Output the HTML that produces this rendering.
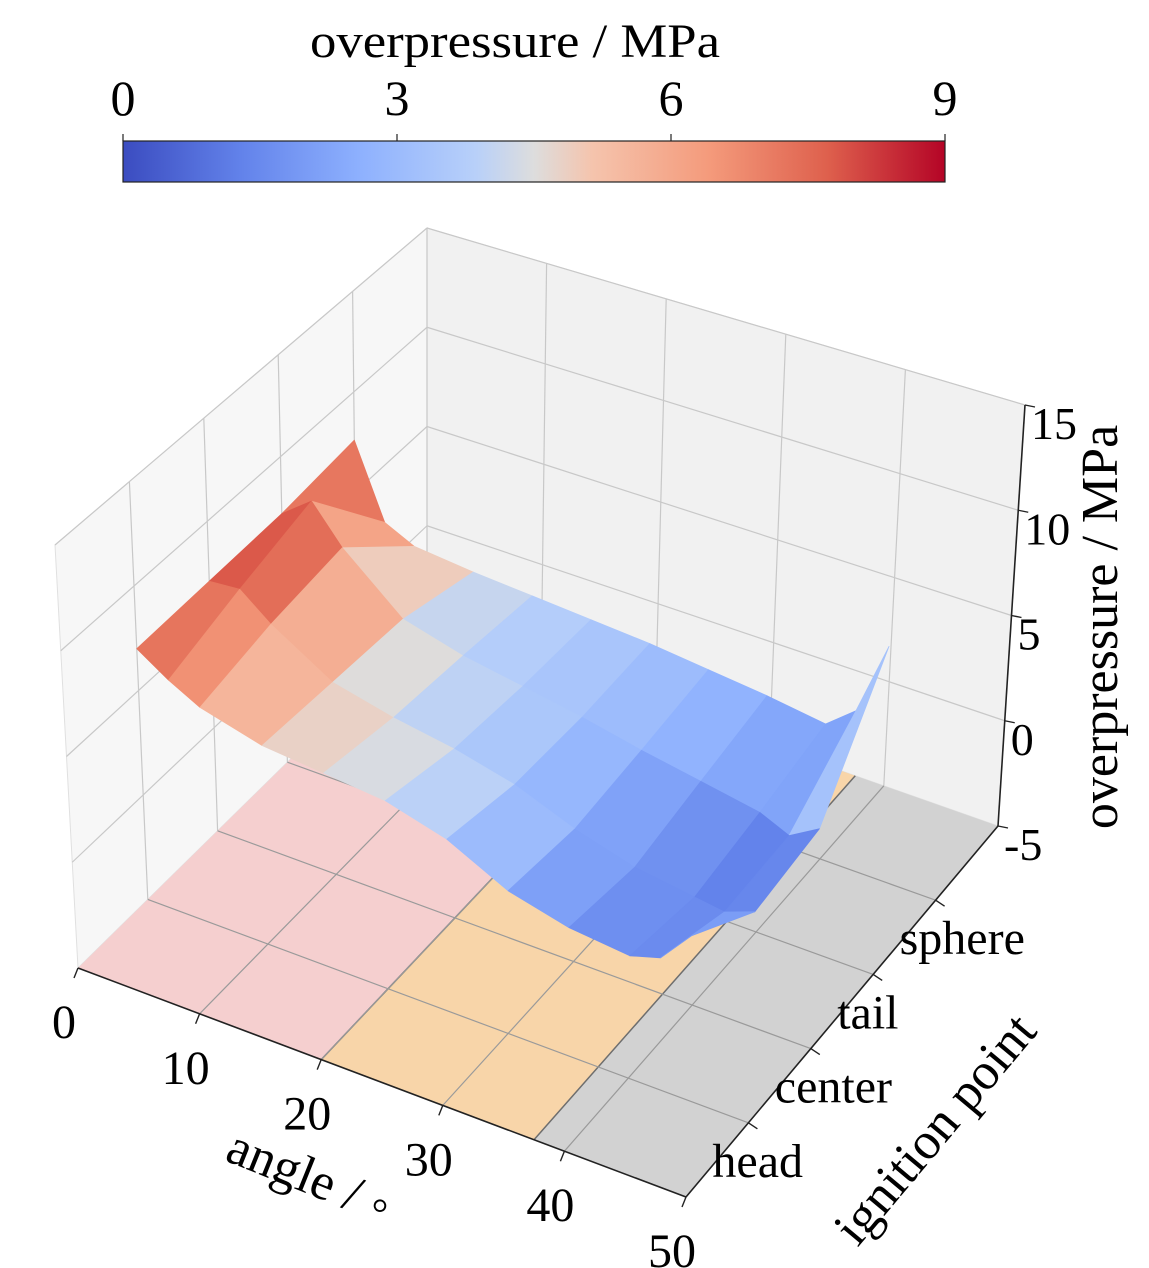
<!DOCTYPE html>
<html><head><meta charset="utf-8"><style>
html,body{margin:0;padding:0;background:#fff}
svg{display:block}
text{font-family:"Liberation Serif",serif;fill:#000}
</style></head><body>
<svg id="chart" width="1149" height="1268" viewBox="0 0 1149 1268" xmlns="http://www.w3.org/2000/svg">
<defs>
<linearGradient id="cw" x1="0" x2="1" y1="0" y2="0">
<stop offset="0" stop-color="#3b4cc0"/><stop offset="0.143" stop-color="#6282ea"/><stop offset="0.286" stop-color="#8db0fe"/><stop offset="0.429" stop-color="#b8d0f9"/><stop offset="0.5" stop-color="#dddddd"/><stop offset="0.571" stop-color="#f5c4ad"/><stop offset="0.714" stop-color="#f49a7b"/><stop offset="0.857" stop-color="#de604d"/><stop offset="1" stop-color="#b40426"/>
</linearGradient>
</defs>
<g>
<text x="515" y="57" font-size="48" text-anchor="middle" textLength="410" lengthAdjust="spacingAndGlyphs">overpressure / MPa</text>
<rect x="123" y="141" width="822" height="41" fill="url(#cw)" stroke="#222" stroke-width="1.2"/>
<g stroke="#222" stroke-width="1.2">
<line x1="123" y1="134" x2="123" y2="141"/><line x1="397" y1="134" x2="397" y2="141"/><line x1="671" y1="134" x2="671" y2="141"/><line x1="945" y1="134" x2="945" y2="141"/>
</g>
<text x="123" y="115" font-size="50" text-anchor="middle">0</text>
<text x="397" y="115" font-size="50" text-anchor="middle">3</text>
<text x="671" y="115" font-size="50" text-anchor="middle">6</text>
<text x="945" y="115" font-size="50" text-anchor="middle">9</text>
</g>
<g id="panes"></g>
<g id="surface"></g>
<g id="axes"></g>
<g>
<text x="0" y="0" font-size="52" text-anchor="middle" transform="translate(303,1192) rotate(22)">angle / ◦</text>
<text x="0" y="0" font-size="52" text-anchor="middle" transform="translate(948,1140) rotate(-50)">ignition point</text>
<text x="0" y="0" font-size="52" text-anchor="middle" transform="translate(1117,627) rotate(-90)">overpressure / MPa</text>
</g>
</svg>
<script>
const angleValues = [0, 2.5, 5, 10, 15, 20, 25, 30, 35, 40, 42.5, 45];
const ignitionValues = [1, 2, 3, 4];
const ignitionLabels = ["head", "center", "tail", "sphere"];
const zHead   = [7.0, 6.0, 5.2, 4.4, 4.1, 3.8, 3.0, 1.6, 0.9, 0.6, 1.0, 2.5];
const zCenter = [7.1, 7.2, 6.0, 4.2, 3.5, 3.0, 2.3, 1.2, 0.4, 0.0, -0.2, 0.3];
const zTail   = [7.2, 8.3, 6.5, 4.0, 3.2, 2.7, 2.2, 1.6, 1.1, 0.6, 0.0, 0.8];
const zSphere = [7.6, 4.0, 3.3, 3.0, 2.8, 2.6, 2.4, 2.1, 1.8, 1.4, 2.5, 6.0];
const angleTicks = [0, 10, 20, 30, 40, 50];
const zTicks = [-5, 0, 5, 10, 15];
const floorBands = [[0, 20, "#f5cfcf"], [20, 37.5, "#f8d5a9"], [37.5, 50, "#d2d2d2"]];

const NS = "http://www.w3.org/2000/svg";
const A0=[78,968],A1=[55,545],B0=[686,1197],B1=[694,750],C0=[998,826],C1=[1025,405],D0=[427,625],D1=[427,228];
function P(a,g,z){
  const u=a/50,v=g/5,w=(z+5)/20;
  const bx=A0[0]*(1-u)*(1-v)+B0[0]*u*(1-v)+C0[0]*u*v+D0[0]*(1-u)*v;
  const by=A0[1]*(1-u)*(1-v)+B0[1]*u*(1-v)+C0[1]*u*v+D0[1]*(1-u)*v;
  const tx=A1[0]*(1-u)*(1-v)+B1[0]*u*(1-v)+C1[0]*u*v+D1[0]*(1-u)*v;
  const ty=A1[1]*(1-u)*(1-v)+B1[1]*u*(1-v)+C1[1]*u*v+D1[1]*(1-u)*v;
  return [bx+(tx-bx)*w, by+(ty-by)*w];
}
function mk(tag,attrs,parent){const e=document.createElementNS(NS,tag);for(const k in attrs)e.setAttribute(k,attrs[k]);parent.appendChild(e);return e;}
function pts(arr){return arr.map(p=>p[0].toFixed(1)+","+p[1].toFixed(1)).join(" ");}
const panes=document.getElementById("panes"), surf=document.getElementById("surface"), axes=document.getElementById("axes");

let e=mk("polygon",{points:pts([P(0,0,-5),P(0,5,-5),P(0,5,15),P(0,0,15)]),fill:"#f7f7f7",stroke:"#e0e0e0"},panes);


e=mk("polygon",{points:pts([P(0,5,-5),P(50,5,-5),P(50,5,15),P(0,5,15)]),fill:"#f1f1f1",stroke:"#e0e0e0"},panes);


floorBands.forEach(b=>{
  const f=mk("polygon",{points:pts([P(b[0],0,-5),P(b[1],0,-5),P(b[1],5,-5),P(b[0],5,-5)]),fill:b[2]},panes);
  
  
});
[20,37.5].forEach(a=>{const p=P(a,0,-5),q=P(a,5,-5);
  const l=mk("line",{x1:p[0],y1:p[1],x2:q[0],y2:q[1],stroke:"#6e6e6e","stroke-width":1.5},panes);
  
  });
function gl(p,q,c){const l=mk("line",{x1:p[0],y1:p[1],x2:q[0],y2:q[1],stroke:c,"stroke-width":1.2},panes);
  
  }
angleTicks.slice(1,5).forEach(a=>{gl(P(a,5,-5),P(a,5,15),"#c8c8c8");gl(P(a,0,-5),P(a,5,-5),"#9a9a9a");});
ignitionValues.forEach(g=>{gl(P(0,g,-5),P(0,g,15),"#c8c8c8");gl(P(0,g,-5),P(50,g,-5),"#9a9a9a");});
zTicks.slice(1,4).forEach(z=>{gl(P(0,0,z),P(0,5,z),"#c8c8c8");gl(P(0,5,z),P(50,5,z),"#c8c8c8");});
gl(P(0,0,15),P(0,5,15),"#c8c8c8");gl(P(0,5,15),P(50,5,15),"#c8c8c8");gl(P(0,5,-5),P(0,5,15),"#c8c8c8");

const cwStops=[[0,59,76,192],[0.143,98,130,234],[0.286,141,176,254],[0.429,184,208,249],[0.5,221,221,221],[0.571,245,196,173],[0.714,244,154,123],[0.857,222,96,77],[1,180,4,38]];
function cw(t){t=Math.max(0,Math.min(1,t));for(let i=1;i<cwStops.length;i++){if(t<=cwStops[i][0]){const a=cwStops[i-1],b=cwStops[i],f=(t-a[0])/(b[0]-a[0]);
  return "rgb("+[1,2,3].map(k=>Math.round(a[k]+(b[k]-a[k])*f)).join(",")+")";}}return "rgb(180,4,38)";}
const rows=[zHead,zCenter,zTail,zSphere];
const quads=[];
for(let r=0;r<ignitionValues.length-1;r++){for(let c=0;c<angleValues.length-1;c++){
  const g0=ignitionValues[r],g1=ignitionValues[r+1],a0=angleValues[c],a1=angleValues[c+1];
  const zs=[rows[r][c],rows[r][c+1],rows[r+1][c+1],rows[r+1][c]];
  const avg=zs.reduce((s,v)=>s+v,0)/4;
  const poly=[P(a0,g0,zs[0]),P(a1,g0,zs[1]),P(a1,g1,zs[2]),P(a0,g1,zs[3])];
  const depth=P((a0+a1)/2,(g0+g1)/2,-5)[1];
  quads.push({poly,avg,depth});
}}
quads.sort((p,q)=>p.depth-q.depth);
quads.forEach(q=>{const col=cw((q.avg+1.4)/10.2);
  const s=mk("polygon",{points:pts(q.poly),fill:col,stroke:col,"stroke-width":0.8,"stroke-linejoin":"round"},surf);
  
  });

function al(p,q,w){const l=mk("line",{x1:p[0],y1:p[1],x2:q[0],y2:q[1],stroke:"#222","stroke-width":w||1.6},axes);
  
  }
al(P(0,0,-5),P(50,0,-5));al(P(50,0,-5),P(50,5,-5));al(P(50,5,-5),P(50,5,15));
function txt(s,x,y,fs,anchor,name){const t=mk("text",{x:x,y:y,"font-size":fs,"text-anchor":anchor},axes);t.textContent=s;
  
  }
angleTicks.forEach(a=>{const p=P(a,0,-5);al(p,[p[0]-4,p[1]+10],1.4);txt(String(a),p[0]-14,p[1]+70,48,"middle","x-tick-label");});
ignitionValues.forEach((g,i)=>{const p=P(50,g,-5);al(p,[p[0]+9,p[1]+6],1.4);txt(ignitionLabels[i],p[0]-36,p[1]+54,48,"start","y-tick-label");});
zTicks.forEach(z=>{const p=P(50,5,z);al(p,[p[0]+10,p[1]+2],1.4);txt(String(z),p[0]+6,p[1]+34,46,"start","z-tick-label");});
</script>
</body></html>
